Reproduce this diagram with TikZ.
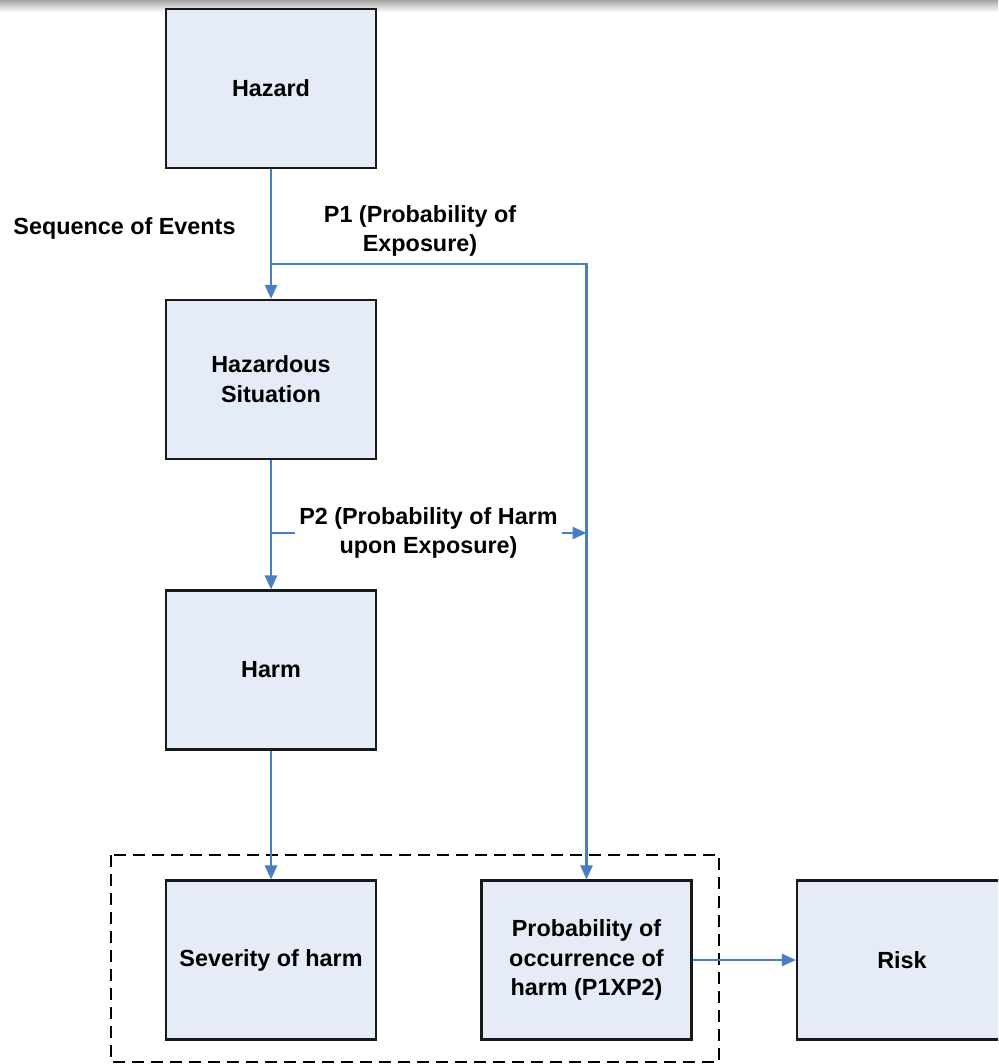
\documentclass[tikz,border=0pt]{standalone}
\usepackage{fontspec}
\setmainfont{Liberation Sans}
\usetikzlibrary{arrows.meta}
\definecolor{boxfill}{HTML}{E6ECF7}
\definecolor{flowblue}{HTML}{4A7EC4}
\tikzset{
  blk/.style={draw=black!90, line width=1.2pt, fill=boxfill, minimum width=4.2cm,
    minimum height=3.18cm, align=center, inner sep=2pt,
    font=\bfseries\fontsize{13.3}{17}\selectfont},
  lbl/.style={align=center, inner sep=2pt, font=\bfseries\fontsize{13.3}{16.5}\selectfont},
  wire/.style={draw=flowblue, line width=1.35pt},
  flow/.style={wire, -{Triangle[length=2.8mm, width=2.4mm]}},
  group/.style={draw=black, line width=1.1pt, dash pattern=on 0.24cm off 0.14cm}
}
\begin{document}
\begin{tikzpicture}[x=0.02cm, y=-0.02cm]
      \useasboundingbox (0,0) rectangle (998,1064);
      \clip (0,0) rectangle (998,1064);
      \shade[top color=black!35, bottom color=white] (0,0) rectangle (998,12);

        %%chain
        \node[blk] (hazard) at (271,88.5) {Hazard};
        \node[blk] (sit) at (271,379.5) {Hazardous\\Situation};
        \node[blk] (harm) at (271,670) {Harm};

        %%outcome
        \node[blk] (sev) at (271,960) {Severity of harm};
        \node[blk] (prob) at (586.5,960) {Probability of\\occurrence of\\harm (P1XP2)};
        \node[blk] (risk) at (902,960) {Risk};
        \draw[group] (111,855) rectangle (719,1062);

        %%labels
        \node[lbl] (seq) at (124.5,228) {Sequence of Events};
        \node[lbl] (p1) at (420,231) {P1 (Probability of\\Exposure)};
        \node[lbl] (p2) at (428.5,533) {P2 (Probability of Harm\\upon Exposure)};

        \coordinate (b1) at (271,264);
        \coordinate (b2) at (271,533);
        \coordinate (p2end) at (586.5,533);

        %%arrows
        \draw[flow] (hazard) -- (sit);
        \draw[flow] (b1) -| (prob);
        \draw[flow] (sit) -- (harm);
          \draw[wire] (b2) -- (p2.west);
          \draw[flow] (p2.east) -- (p2end);
        \draw[flow] (harm) -- (sev);
        \draw[flow] (prob) -- (risk);

\end{tikzpicture}
\end{document}
